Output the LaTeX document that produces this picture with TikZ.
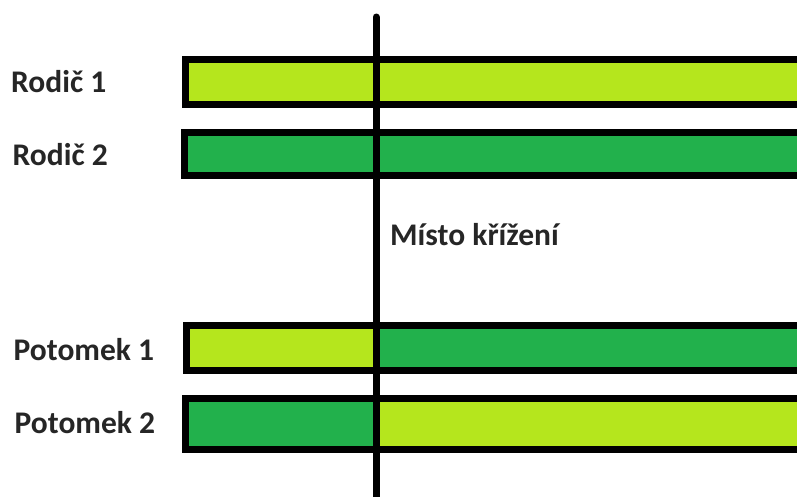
\documentclass[tikz,border=0pt]{standalone}
\usepackage{fontspec}
\setmainfont{Carlito}
\definecolor{lime}{HTML}{B5E61D}
\definecolor{grn}{HTML}{22B14C}
\definecolor{txt}{HTML}{262626}
\tikzset{
  lbl/.style={anchor=base west, inner sep=0pt, text=txt, font=\fontsize{31.5}{36}\selectfont\bfseries},
  barframe/.style={draw=black, line width=7pt},
  cutline/.style={draw=black, line width=7pt, line cap=round}
}
\begin{document}
\begin{tikzpicture}[x=1pt,y=-1pt]
\useasboundingbox (0,0) rectangle (797,496);
\clip (0,0) rectangle (797,496);
% Rodič 1
\fill[lime] (185.5,59.5) rectangle (376,104.7);
\fill[lime] (376,59.5) rectangle (820,104.7);
\draw[barframe] (185.5,59.5) rectangle (830,104.7);
% Rodič 2
\fill[grn] (184.2,132.8) rectangle (376,175.8);
\fill[grn] (376,132.8) rectangle (820,175.8);
\draw[barframe] (184.2,132.8) rectangle (830,175.8);
% Potomek 1
\fill[lime] (186.8,325.8) rectangle (376,370.8);
\fill[grn] (376,325.8) rectangle (820,370.8);
\draw[barframe] (186.8,325.8) rectangle (830,370.8);
% Potomek 2
\fill[grn] (185.5,398.8) rectangle (376,449.8);
\fill[lime] (376,398.8) rectangle (820,449.8);
\draw[barframe] (185.5,398.8) rectangle (830,449.8);
% crossover line
\coordinate (ctop) at (376,17);
\coordinate (cbot) at (376,510);
\draw[cutline] (ctop) -- (cbot);
% labels
\node[lbl] (r1) at (11,92) {Rodič 1};
\node[lbl] (r2) at (12.5,165.5) {Rodič 2};
\node[lbl] (p1) at (13.5,360.5) {Potomek 1};
\node[lbl] (p2) at (14.5,433) {Potomek 2};
\node[lbl] (m) at (390,245.5) {Místo křížení};
\end{tikzpicture}
\end{document}
